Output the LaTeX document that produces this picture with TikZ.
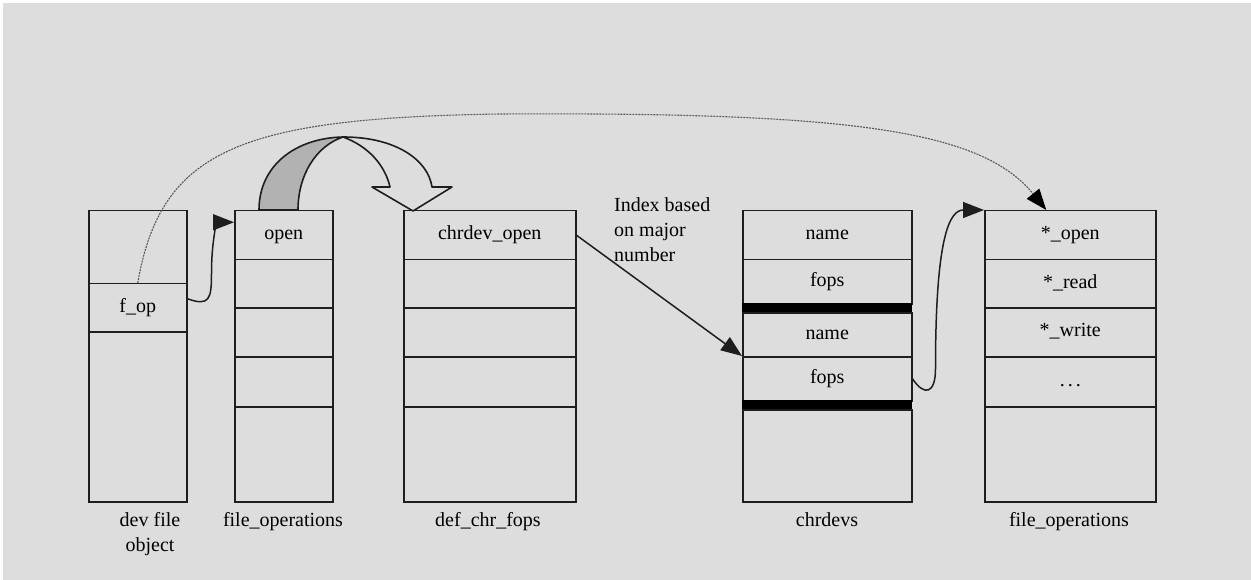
\documentclass[tikz,border=0pt]{standalone}
\usepackage{fontspec}
\setmainfont{Liberation Serif}
\usetikzlibrary{arrows.meta,calc}
\definecolor{bg}{HTML}{DDDDDD}
\definecolor{ln}{HTML}{1E1E1E}
\definecolor{band}{HTML}{B2B2B2}
\begin{document}
\begin{tikzpicture}[x=1pt,y=-1pt,
  font=\fontsize{20}{25}\selectfont,
  cell/.style={draw=ln,line width=1.5pt,inner sep=0pt,anchor=north west,
    text height=13pt,text depth=4pt,align=center},
  bar/.style={fill=black,draw=black,line width=0.5pt,inner sep=0pt,anchor=north west},
  lbl/.style={inner sep=0pt,align=center},
  tip/.style={-{Triangle[length=21pt,width=16pt]}},
  link/.style={ln,line width=1.5pt,tip},
  farlink/.style={gray!70!black,line width=1.1pt,dash pattern=on 2pt off 1pt,
    -{Triangle[length=21pt,width=16pt,color=black]}}]
\useasboundingbox (0,0) rectangle (1251,580);
\fill[white] (0,0) rectangle (1251,580);
\fill[bg] (3,3) rectangle (1251,580);

% box 1: dev file object
\node[cell,minimum width=98pt,minimum height=73pt] (b1r1) at (88,210) {};
\node[cell,minimum width=98pt,minimum height=48pt] (b1r2) at (88,283) {f\_op};
\node[cell,minimum width=98pt,minimum height=170pt] (b1r3) at (88,331) {};

% box 2: file_operations
\node[cell,minimum width=98pt,minimum height=49pt] (b2r1) at (234,210) {open};
\node[cell,minimum width=98pt,minimum height=48pt] (b2r2) at (234,259) {};
\node[cell,minimum width=98pt,minimum height=49pt] (b2r3) at (234,307) {};
\node[cell,minimum width=98pt,minimum height=50pt] (b2r4) at (234,356) {};
\node[cell,minimum width=98pt,minimum height=95pt] (b2r5) at (234,406) {};

% box 3: def_chr_fops
\node[cell,minimum width=172pt,minimum height=49pt] (b3r1) at (403,210) {chrdev\_open};
\node[cell,minimum width=172pt,minimum height=48pt] (b3r2) at (403,259) {};
\node[cell,minimum width=172pt,minimum height=49pt] (b3r3) at (403,307) {};
\node[cell,minimum width=172pt,minimum height=50pt] (b3r4) at (403,356) {};
\node[cell,minimum width=172pt,minimum height=95pt] (b3r5) at (403,406) {};

% box 4: chrdevs
\node[cell,minimum width=169pt,minimum height=49pt] (b4r1) at (742,210) {name};
\node[cell,minimum width=169pt,minimum height=44pt] (b4r2) at (742,259) {fops};
\node[bar,minimum width=169pt,minimum height=9pt] (b4bar1) at (742,303) {};
\node[cell,minimum width=169pt,minimum height=44pt] (b4r3) at (742,312) {name};
\node[cell,minimum width=169pt,minimum height=44pt] (b4r4) at (742,356) {fops};
\node[bar,minimum width=169pt,minimum height=9pt] (b4bar2) at (742,400) {};
\node[cell,minimum width=169pt,minimum height=92pt] (b4r5) at (742,409) {};

% box 5: file_operations
\node[cell,minimum width=171pt,minimum height=49pt] (b5r1) at (984,210) {*\_open};
\node[cell,minimum width=171pt,minimum height=48pt] (b5r2) at (984,259) {*\_read};
\node[cell,minimum width=171pt,minimum height=49pt] (b5r3) at (984,307) {*\_write};
\node[cell,minimum width=171pt,minimum height=50pt] (b5r4) at (984,356) {.\kern3pt.\kern3pt.};
\node[cell,minimum width=171pt,minimum height=95pt] (b5r5) at (984,406) {};

% labels
\node[lbl,anchor=north] (l1) at (150,512) {dev file\\object};
\node[lbl,anchor=north] (l2) at (283,512) {file\_operations};
\node[lbl,anchor=north] (l3) at (488,512) {def\_chr\_fops};
\node[lbl,anchor=north] (l4) at (827,512) {chrdevs};
\node[lbl,anchor=north] (l5) at (1069,512) {file\_operations};
\node[lbl,anchor=north west,align=left] (idx) at (614,197) {Index based\\on major\\number};

% block arrow open -> chrdev_open
\filldraw[fill=band,draw=ln,line width=1.6pt,line join=round]
  (259,210) .. controls (259,165) and (296,138) .. (343,137)
  .. controls (316,146) and (298,175) .. (298,210) -- cycle;
\filldraw[fill=bg,draw=ln,line width=1.6pt,line join=round]
  (343,137) .. controls (396,137) and (428,160) .. (432,187)
  -- (452,187) -- (413,211) -- (372,187) -- (390,187)
  .. controls (385,165) and (368,146) .. (343,137) -- cycle;

% connectors
\draw[link] ($(b1r2.east)+(0,-9)$) .. controls +(22,8) and +(0,25) .. ++(24,-25)
  .. controls +(0,-40) and +(-15,0) .. ($(b2r1.west)+(0,-13)$);
\draw[link] (b3r1.east) -- (b4r4.north west);
\draw[link] (b4r4.east) .. controls +(12,18) and +(0,25) .. ++(23,-10)
  .. controls +(0,-130) and +(-35,0) .. (b5r1.north west);
\coordinate (peak) at (500,114);
\draw[farlink] (b1r2.north) .. controls +(23,-133) and +(-260,4) .. (peak)
  .. controls +(350,-2) and +(-65,-80) .. ($(b5r1.north)+(-24,0)$);
\end{tikzpicture}
\end{document}
